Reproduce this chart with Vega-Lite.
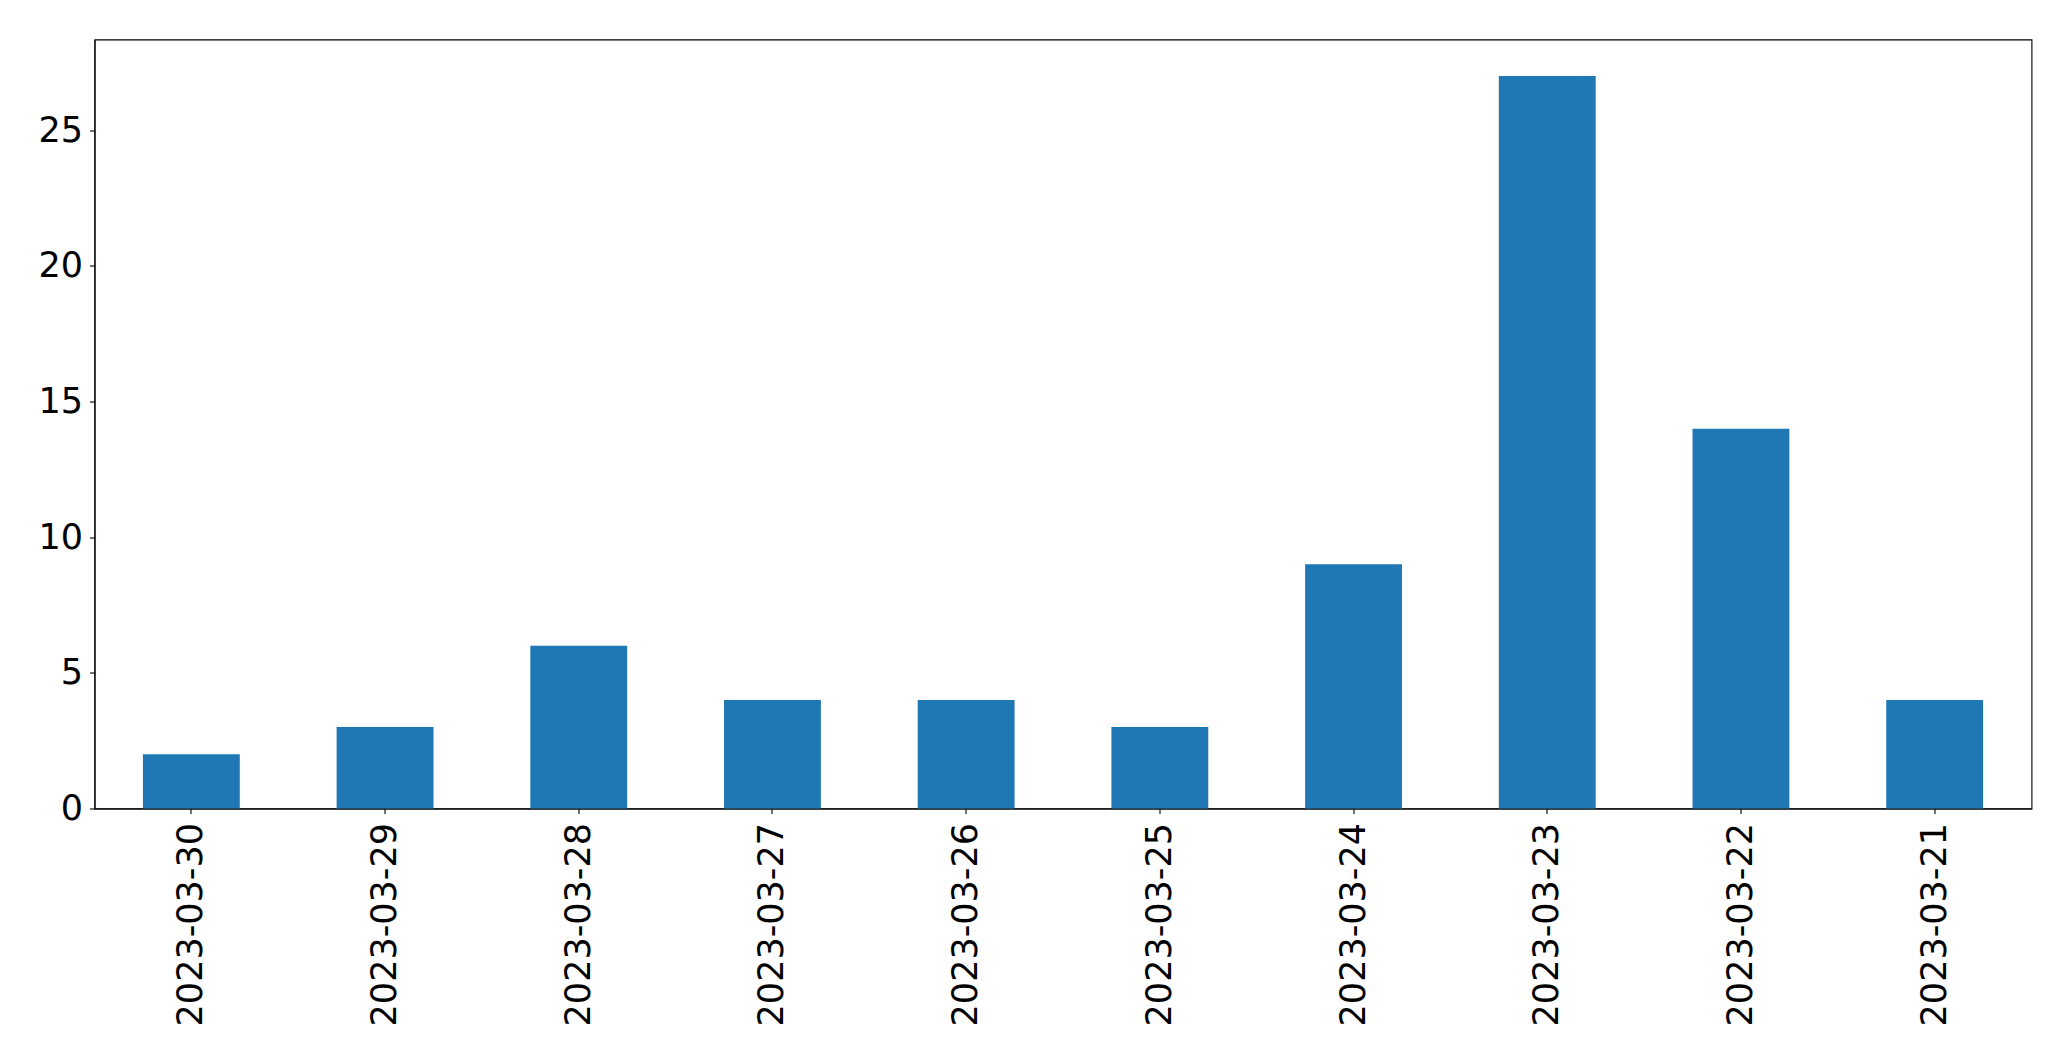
{
  "$schema": "https://vega.github.io/schema/vega-lite/v6.json",
  "width": 1937,
  "height": 769,
  "autosize": "none",
  "padding": {"left": 94.5, "top": 39.5, "right": 39.5, "bottom": 252},
  "background": "white",
  "config": {
    "view": {"stroke": "#000000", "strokeWidth": 1.1},
    "axis": {"grid": false, "domainColor": "#000000", "domainWidth": 1.1, "tickColor": "#000000", "tickWidth": 1.1, "tickSize": 5, "labelFont": "DejaVu Sans", "labelFontSize": 35, "labelColor": "#000000", "labelLimit": 0, "title": null}
  },
  "data": {
    "values": [
      {"date": "2023-03-30", "count": 2},
      {"date": "2023-03-29", "count": 3},
      {"date": "2023-03-28", "count": 6},
      {"date": "2023-03-27", "count": 4},
      {"date": "2023-03-26", "count": 4},
      {"date": "2023-03-25", "count": 3},
      {"date": "2023-03-24", "count": 9},
      {"date": "2023-03-23", "count": 27},
      {"date": "2023-03-22", "count": 14},
      {"date": "2023-03-21", "count": 4}
    ]
  },
  "mark": {"type": "bar", "color": "#1f77b4"},
  "encoding": {
    "x": {
      "field": "date", "type": "nominal", "sort": null,
      "scale": {"paddingInner": 0.5, "paddingOuter": 0.25},
      "axis": {"labelAngle": -90, "labelPadding": 9, "labelLimit": 0, "title": null}
    },
    "y": {
      "field": "count", "type": "quantitative",
      "scale": {"domain": [0, 28.35], "nice": false, "zero": true},
      "axis": {"values": [0, 5, 10, 15, 20, 25], "labelPadding": 7, "title": null}
    }
  }
}
